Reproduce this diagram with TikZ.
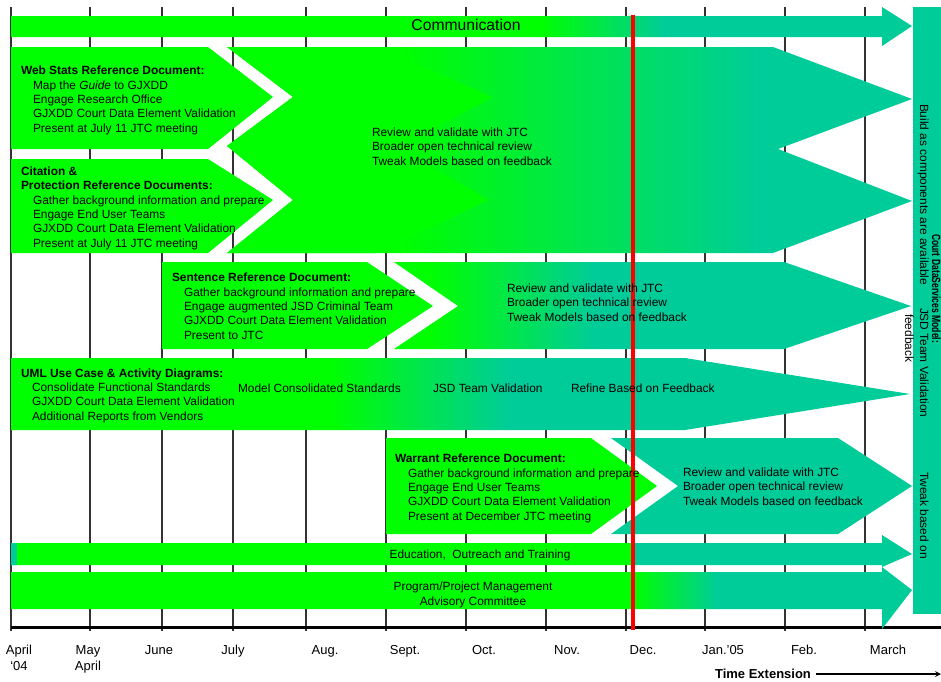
\documentclass[tikz,border=0pt]{standalone}
\usepackage{fontspec}
\setmainfont{Liberation Sans}
\definecolor{gr}{HTML}{00FF00}
\definecolor{tl}{HTML}{00CC99}
\definecolor{rd}{HTML}{FF0000}
\newcommand\fsz{\fontsize{11.9}{14.3}\selectfont}
\newcommand\gfill[3]{%
  \begin{scope}
    \clip #1;
    \fill[gr] (0,0) rectangle (#2+0.6,700);
    \shade[left color=gr,right color=tl] (#2,0) rectangle (#3,700);
    \fill[tl] (#3-0.6,0) rectangle (950,700);
  \end{scope}}
\begin{document}
\begin{tikzpicture}[x=1pt,y=-1pt,
  every node/.style={inner sep=0pt,outer sep=0pt},
  txt/.style={font=\fsz,align=left,anchor=base west},
  ctr/.style={font=\fsz,align=center,anchor=base},
  rot/.style={font=\fsz,rotate=-90,anchor=base west},
  mon/.style={font=\fontsize{13}{16}\selectfont,align=center,anchor=base},
  gridline/.style={line width=1.1pt,black!80}]
\useasboundingbox (0,0) rectangle (941,681);

% grid
\foreach \x in {11,90,162,233,306,386,466,546,626,705,785,865}
  \draw[gridline] (\x,7) -- (\x,631);
% axis
\draw[line width=3.5pt,black] (11,627.5) -- (941,627.5);

% Communication
\gfill{(11,16)--(882,16)--(882,7)--(912,26)--(882,46)--(882,37)--(11,37)--cycle}{540}{665}

% Rows 1-2
\fill[gr] (11,47)--(208,47)--(273,97)--(208,149)--(11,149)--cycle;
\fill[gr] (11,159)--(208,159)--(273,200)--(208,253)--(11,253)--cycle;
\gfill{(227,47)--(773,47)--(912,99)--(778,149)--(912,201)--(773,253)--(227,253)--(293,200)--(227,146)--(293,97)--cycle}{400}{760}
\begin{scope}
  \clip (227,47)--(773,47)--(912,99)--(778,149)--(912,201)--(773,253)--(227,253)--(293,200)--(227,146)--(293,97)--cycle;
  \fill[gr] (200,40)--(360,40)--(493,97)--(398,148)--(489,200)--(360,260)--(200,260)--cycle;
\end{scope}

% Row 3
\fill[gr] (162,262)--(367,262)--(433,306)--(367,349)--(162,349)--cycle;
\gfill{(394,262)--(784,262)--(911,306)--(784,349)--(394,349)--(458,306)--cycle}{430}{594}

% UML
\gfill{(11,358)--(685,358)--(910,394)--(685,430)--(11,430)--cycle}{330}{510}

% Warrant
\fill[gr] (386,438)--(591,438)--(657,486)--(591,534)--(386,534)--cycle;
\fill[tl] (611,438)--(838,438)--(912,486)--(838,534)--(611,534)--(678,486)--cycle;

% Education
\begin{scope}
  \clip (11,543)--(882,543)--(882,535)--(912,554)--(882,567)--(882,565)--(11,565)--cycle;
  \fill[gr] (0,500) rectangle (633,600);
  \fill[tl] (633,500) rectangle (950,600);
  \fill[tl] (0,500) rectangle (17,600);
\end{scope}

% Program management
\gfill{(11,572)--(882,572)--(882,567)--(912,590)--(882,629)--(882,609)--(11,609)--cycle}{633}{718}

% right bar
\fill[tl] (913,7) rectangle (945,614);

% red line
\draw[rd,line width=4pt] (633,15) -- (633,630);

% texts (multi-line nodes are anchored at the baseline of their last line)
\node[font=\fontsize{15.7}{18}\selectfont,anchor=center] (comm) at (466,25) {Communication};

\node[txt] (ws) at (21,132) {\textbf{Web Stats Reference Document:}\\
\hspace*{12pt}Map the \textit{Guide} to GJXDD\\
\hspace*{12pt}Engage Research Office\\
\hspace*{12pt}GJXDD Court Data Element Validation\\
\hspace*{12pt}Present at July 11 JTC meeting};

\node[txt] (cit) at (21,247) {\textbf{Citation \&}\\
\textbf{Protection Reference Documents:}\\
\hspace*{12pt}Gather background information and prepare\\
\hspace*{12pt}Engage End User Teams\\
\hspace*{12pt}GJXDD Court Data Element Validation\\
\hspace*{12pt}Present at July 11 JTC meeting};

\node[txt] (rv1) at (372,165) {Review and validate with JTC\\
Broader open technical review\\
Tweak Models based on feedback};

\node[txt] (sen) at (172,339) {\textbf{Sentence Reference Document:}\\
\hspace*{12pt}Gather background information and prepare\\
\hspace*{12pt}Engage augmented JSD Criminal Team\\
\hspace*{12pt}GJXDD Court Data Element Validation\\
\hspace*{12pt}Present to JTC};

\node[txt] (rv3) at (507,321) {Review and validate with JTC\\
Broader open technical review\\
Tweak Models based on feedback};

\node[txt] (uml) at (21,420) {\textbf{UML Use Case \& Activity Diagrams:}\\
\hspace*{11pt}Consolidate Functional Standards\\
\hspace*{11pt}GJXDD Court Data Element Validation\\
\hspace*{11pt}Additional Reports from Vendors};
\node[txt] (umlb) at (238,392) {Model Consolidated Standards};
\node[txt] (umlc) at (433,392) {JSD Team Validation};
\node[txt] (umld) at (571,392) {Refine Based on Feedback};

\node[txt] (war) at (395,520) {\textbf{Warrant Reference Document:}\\
\hspace*{13pt}Gather background information and prepare\\
\hspace*{13pt}Engage End User Teams\\
\hspace*{13pt}GJXDD Court Data Element Validation\\
\hspace*{13pt}Present at December JTC meeting};

\node[txt] (rvw) at (683,505) {Review and validate with JTC\\
Broader open technical review\\
Tweak Models based on feedback};

\node[ctr] (edu) at (480,558) {Education,\ \ Outreach and Training};
\node[ctr] (ppm) at (473,605) {Program/Project Management\\Advisory Committee};

% right bar texts
\node[rot] (cds) at (932,234) {\scalebox{0.72}[1]{\textbf{Court DataServices Model:}}};
\node[rot] (bld) at (920,104) {Build as components are available};
\node[rot] (jsd) at (920,308) {JSD Team Validation};
\node[rot] (twk) at (920,472) {Tweak based on};
\node[rot] (fdb) at (905,314) {feedback};

% months
\node[mon] (m1) at (19,670) {April\\`04};
\node[mon] (m2) at (88,670) {May\\April};
\node[mon] (m3) at (159,654) {June};
\node[mon] (m4) at (233,654) {July};
\node[mon] (m5) at (325,654) {Aug.};
\node[mon] (m6) at (405,654) {Sept.};
\node[mon] (m7) at (484,654) {Oct.};
\node[mon] (m8) at (567,654) {Nov.};
\node[mon] (m9) at (643,654) {Dec.};
\node[mon] (m10) at (723,654) {Jan.'05};
\node[mon] (m11) at (804,654) {Feb.};
\node[mon] (m12) at (888,654) {March};

\node[font=\fontsize{13}{16}\selectfont\bfseries,anchor=base] (te) at (763,678) {Time Extension};
\coordinate (teEnd) at (941,674);
\draw[line width=1.6pt,-stealth] (te.east) ++(5,0) coordinate (teStart) (teStart |- teEnd) -- (teEnd);
\end{tikzpicture}
\end{document}
